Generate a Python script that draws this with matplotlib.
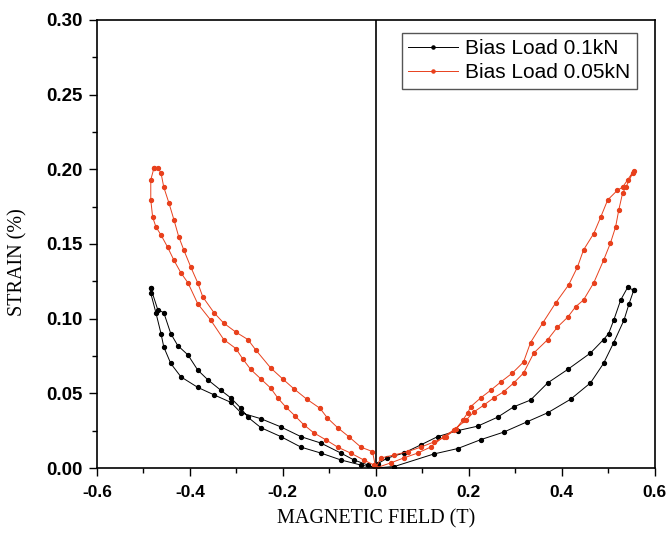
"""Butterfly strain curves vs magnetic field for two bias loads."""

import matplotlib
matplotlib.use("Agg")
import matplotlib.pyplot as plt
from matplotlib.ticker import MultipleLocator, FormatStrFormatter

plt.rcParams["axes.unicode_minus"] = False

# --- Bias Load 0.1kN (black) -------------------------------------------------
# right side, field going up (lower branch)
black_r_up_x = [0.0, 0.04, 0.125, 0.176, 0.226, 0.275, 0.326, 0.37, 0.419,
                0.462, 0.49, 0.512, 0.534, 0.545, 0.555]
black_r_up_y = [0.0, 0.001, 0.0094, 0.013, 0.019, 0.024, 0.031, 0.037, 0.046,
                0.057, 0.070, 0.084, 0.099, 0.110, 0.119]
# right side, field coming back (upper branch)
black_r_dn_x = [0.555, 0.542, 0.527, 0.512, 0.501, 0.49, 0.462, 0.413, 0.37,
                0.333, 0.297, 0.262, 0.219, 0.176, 0.133, 0.097, 0.06, 0.025,
                0.005, 0.0]
black_r_dn_y = [0.119, 0.121, 0.1125, 0.099, 0.090, 0.086, 0.077, 0.066, 0.057,
                0.0455, 0.041, 0.034, 0.028, 0.025, 0.021, 0.0155, 0.010, 0.0067,
                0.003, 0.0]
# left side, field going negative
black_l_up_x = [0.0, -0.032, -0.075, -0.118, -0.161, -0.204, -0.247, -0.275,
                -0.29, -0.312, -0.333, -0.361, -0.383, -0.404, -0.426, -0.441,
                -0.456, -0.469, -0.484]
black_l_up_y = [0.0, 0.002, 0.0054, 0.010, 0.014, 0.021, 0.027, 0.034,
                0.040, 0.047, 0.052, 0.059, 0.0656, 0.0757, 0.082, 0.090,
                0.104, 0.106, 0.1205]
# left side, field coming back
black_l_dn_x = [-0.484, -0.484, -0.473, -0.462, -0.456, -0.441, -0.419, -0.383,
                -0.348, -0.312, -0.29, -0.247, -0.204, -0.161, -0.118, -0.075,
                -0.047, -0.017, 0.0]
black_l_dn_y = [0.1205, 0.117, 0.104, 0.090, 0.081, 0.070, 0.061, 0.054,
                0.049, 0.044, 0.037, 0.033, 0.0275, 0.021, 0.0167, 0.010,
                0.0054, 0.002, 0.0]

# --- Bias Load 0.05kN (red) --------------------------------------------------
red_r_up_x = [0.0, 0.032, 0.06, 0.09, 0.118, 0.146, 0.168, 0.194, 0.211, 0.232,
              0.254, 0.275, 0.297, 0.318, 0.34, 0.37, 0.391, 0.413, 0.43, 0.447,
              0.469, 0.49, 0.505, 0.516, 0.523, 0.531, 0.538, 0.553]
red_r_up_y = [0.0, 0.0034, 0.0067, 0.010, 0.014, 0.021, 0.0255, 0.032, 0.0375,
              0.042, 0.047, 0.051, 0.057, 0.0636, 0.077, 0.086, 0.0944, 0.101,
              0.108, 0.1125, 0.124, 0.139, 0.1507, 0.1614, 0.173, 0.184, 0.188,
              0.1976]
red_r_dn_x = [0.555, 0.542, 0.531, 0.520, 0.499, 0.484, 0.469, 0.447, 0.434,
              0.415, 0.387, 0.359, 0.333, 0.318, 0.294, 0.269, 0.247, 0.226,
              0.204, 0.198, 0.187, 0.172, 0.151, 0.125, 0.097, 0.069, 0.039,
              0.011, 0.0]
red_r_dn_y = [0.199, 0.193, 0.188, 0.186, 0.1795, 0.168, 0.157, 0.146, 0.1346,
              0.1226, 0.1105, 0.097, 0.084, 0.071, 0.0636, 0.0576, 0.052, 0.047,
              0.041, 0.037, 0.032, 0.026, 0.021, 0.0174, 0.014, 0.011, 0.0087,
              0.0067, 0.0]
red_l_up_x = [0.0, -0.004, -0.026, -0.054, -0.082, -0.108, -0.133, -0.155,
              -0.174, -0.194, -0.211, -0.226, -0.247, -0.269, -0.286, -0.301,
              -0.327, -0.355, -0.383, -0.404, -0.419, -0.434, -0.448, -0.462,
              -0.473, -0.480, -0.484, -0.484, -0.477]
red_l_up_y = [0.0, 0.002, 0.0054, 0.010, 0.014, 0.019, 0.0235, 0.029,
              0.035, 0.041, 0.047, 0.0535, 0.0596, 0.066, 0.073, 0.080,
              0.086, 0.099, 0.110, 0.124, 0.1306, 0.139, 0.148, 0.156,
              0.1615, 0.168, 0.1795, 0.193, 0.201]
red_l_dn_x = [-0.477, -0.469, -0.462, -0.456, -0.445, -0.434, -0.424, -0.413,
              -0.398, -0.383, -0.372, -0.348, -0.327, -0.301, -0.275, -0.258,
              -0.226, -0.2, -0.176, -0.148, -0.12, -0.104, -0.082, -0.058,
              -0.032, -0.007, 0.0]
red_l_dn_y = [0.201, 0.201, 0.1976, 0.188, 0.1775, 0.166, 0.155, 0.146,
              0.1346, 0.124, 0.1145, 0.104, 0.097, 0.091, 0.086, 0.079,
              0.067, 0.0596, 0.053, 0.046, 0.040, 0.0335, 0.027, 0.021,
              0.014, 0.011, 0.0]

black_x = black_r_up_x + black_r_dn_x + black_l_up_x + black_l_dn_x
black_y = black_r_up_y + black_r_dn_y + black_l_up_y + black_l_dn_y
red_x = red_r_up_x + red_r_dn_x + red_l_up_x + red_l_dn_x
red_y = red_r_up_y + red_r_dn_y + red_l_up_y + red_l_dn_y

RED = "#e8401c"

fig = plt.figure(figsize=(6.68, 5.39), dpi=100)
ax = fig.add_axes([0.145, 0.1317, 0.835, 0.8313])

ax.plot(black_x, black_y, color="black", lw=0.7, marker="o", ms=2.8,
        mec="black", label="Bias Load 0.1kN")
ax.plot(red_x, red_y, color=RED, lw=0.7, marker="o", ms=2.8,
        mec=RED, label="Bias Load 0.05kN")
ax.axvline(0.0, color="black", lw=1.2, zorder=0)

ax.set_xlim(-0.6, 0.6)
ax.set_ylim(0.0, 0.30)
ax.xaxis.set_major_locator(MultipleLocator(0.2))
ax.xaxis.set_minor_locator(MultipleLocator(0.1))
ax.yaxis.set_major_locator(MultipleLocator(0.05))
ax.yaxis.set_minor_locator(MultipleLocator(0.025))
ax.xaxis.set_major_formatter(FormatStrFormatter("%.1f"))
ax.yaxis.set_major_formatter(FormatStrFormatter("%.2f"))
ax.tick_params(which="both", direction="out", top=False, right=False, width=1.0)
ax.tick_params(which="major", length=6)
ax.tick_params(which="minor", length=3.5)
ax.tick_params(axis="x", which="major", labelsize=12.5, pad=6)
ax.tick_params(axis="y", which="major", labelsize=13.5, pad=4)
for lab in ax.get_xticklabels() + ax.get_yticklabels():
    lab.set_fontfamily("Liberation Sans")
    lab.set_fontweight("bold")
for sp in ax.spines.values():
    sp.set_linewidth(1.2)

ax.set_xlabel("MAGNETIC FIELD (T)", fontfamily="Liberation Serif",
              fontsize=14.5, labelpad=7)
ax.set_ylabel("STRAIN (%)", fontfamily="Liberation Serif", fontsize=14.5)
ax.yaxis.set_label_coords(-0.125, 0.46)

leg = ax.legend(loc="upper right", bbox_to_anchor=(0.968, 0.971),
                prop={"family": "Liberation Sans", "size": 15},
                fancybox=False, framealpha=1.0, edgecolor="#555555",
                handlelength=2.4, borderpad=0.3, labelspacing=0.25,
                handletextpad=0.35, borderaxespad=0.0, markerscale=0.8)
leg.get_frame().set_linewidth(1.0)

fig.savefig("out.png", dpi=100)
